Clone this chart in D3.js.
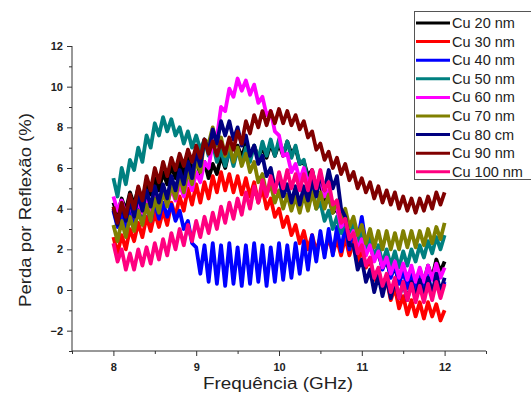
<!DOCTYPE html>
<html>
<head>
<meta charset="utf-8">
<script src="https://cdn.jsdelivr.net/npm/d3@7"></script>
<style>
  body { margin: 0; background: #fff; }
  text { font-family: Arial, "Liberation Sans", sans-serif; }
</style>
</head>
<body>
<div id="chart"></div>
<script>
// frequency grid (GHz)
let freq = [8.00,8.05,8.10,8.15,8.20,8.25,8.30,8.35,8.40,8.45,8.50,8.55,8.60,8.65,8.70,8.75,8.80,8.85,8.90,8.95,
  9.00,9.05,9.10,9.15,9.20,9.25,9.30,9.35,9.40,9.45,9.50,9.55,9.60,9.65,9.70,9.75,9.80,9.85,9.90,9.95,
  10.00,10.05,10.10,10.15,10.20,10.25,10.30,10.35,10.40,10.45,10.50,10.55,10.60,10.65,10.70,10.75,10.80,10.85,10.90,10.95,
  11.00,11.05,11.10,11.15,11.20,11.25,11.30,11.35,11.40,11.45,11.50,11.55,11.60,11.65,11.70,11.75,11.80,11.85,11.90,11.95,12.00];

let cu20 = [4.3,3.7,4.5,3.9,4.8,4.2,5.0,4.4,5.3,4.7,5.5,4.9,5.8,5.2,6.1,5.5,6.3,5.7,6.5,5.9,
  6.4,5.7,6.3,5.5,6.2,5.7,6.6,6.0,6.9,6.3,7.1,6.5,7.2,6.6,7.1,6.5,7.0,6.5,7.2,6.6,
  7.2,6.6,7.3,6.7,7.0,6.2,6.3,5.6,5.9,5.0,5.2,4.4,4.6,3.8,4.0,3.3,3.5,2.8,3.0,2.3,
  2.6,1.9,2.2,1.5,1.8,1.1,1.4,0.7,1.1,0.4,0.9,0.3,0.9,0.2,1.0,0.4,1.2,0.6,1.5,0.9,1.4];

let cu30 = [2.6,1.8,2.7,2.0,3.0,2.4,3.3,2.6,3.6,2.9,3.8,3.1,3.9,3.2,4.3,3.6,4.6,3.9,5.0,4.2,
  5.2,4.3,5.3,4.5,5.6,4.8,5.8,4.9,5.7,4.8,5.6,4.7,5.5,4.6,5.3,4.3,5.0,4.0,4.5,3.6,
  4.0,3.1,3.6,2.7,3.2,2.3,2.9,2.0,2.7,1.9,2.6,1.8,2.6,1.8,2.5,1.7,2.6,1.7,2.4,1.4,
  2.0,1.1,1.5,0.5,1.0,0.0,0.5,-0.5,0.1,-0.9,-0.3,-1.2,-0.5,-1.3,-0.6,-1.4,-0.6,-1.3,-0.7,-1.5,-1.0];

let cu40 = [3.9,3.1,3.8,3.0,4.0,3.2,4.0,3.3,4.2,3.4,4.3,3.5,4.3,3.6,4.2,3.4,3.9,3.0,3.4,2.3,
  2.1,0.8,2.2,0.4,2.3,0.3,2.2,0.2,2.3,0.3,2.1,0.2,2.2,0.3,2.3,0.4,2.2,0.2,2.1,0.4,
  2.3,0.5,2.2,0.6,2.3,0.8,2.4,1.0,2.7,1.4,2.9,1.6,3.0,1.7,3.1,1.9,3.2,2.0,3.3,2.4,
  3.6,2.2,2.6,1.5,2.0,1.0,1.6,0.6,1.3,0.3,1.0,0.1,0.9,0.0,0.8,-0.1,0.7,-0.2,0.6,-0.2,0.4];

let cu50 = [5.5,4.6,6.0,5.2,6.4,5.9,7.0,6.3,7.6,7.0,8.2,7.6,8.5,7.8,8.4,7.6,8.0,7.2,7.8,7.0,
  7.6,6.9,7.4,6.6,7.2,6.3,6.9,6.1,6.9,6.1,6.9,6.2,7.0,6.3,7.1,6.4,7.3,6.6,7.4,6.6,
  7.4,6.7,7.3,6.5,7.1,6.2,6.4,5.2,5.1,4.0,4.3,3.4,3.9,3.0,3.6,2.8,3.4,2.6,3.2,2.3,
  2.8,1.9,2.5,1.6,2.2,1.3,2.0,1.2,1.9,1.1,1.9,1.2,2.0,1.4,2.2,1.6,2.4,1.8,2.6,2.0,2.7];

let cu60 = [4.6,3.9,4.4,3.7,4.3,3.6,4.4,3.8,4.6,3.9,4.7,4.0,4.8,4.2,5.0,4.4,5.2,4.6,5.5,4.9,
  5.8,5.3,6.3,6.0,7.3,7.5,9.0,8.8,9.9,9.5,10.4,9.8,10.3,9.6,10.1,9.2,9.5,8.6,8.8,7.8,
  7.6,6.6,6.7,5.8,6.2,5.4,6.0,5.2,5.8,5.0,5.5,4.6,4.9,3.9,4.1,3.1,3.4,2.5,2.9,2.0,
  2.5,1.7,2.2,1.4,1.9,1.1,1.6,0.8,1.4,0.6,1.3,0.5,1.2,0.4,1.1,0.4,1.2,0.5,1.3,0.6,1.1];

let cu70 = [3.2,2.4,3.4,2.6,3.6,2.9,3.9,3.2,4.2,3.4,4.5,3.8,4.9,4.1,5.2,4.5,5.6,4.8,5.9,5.2,
  6.4,5.8,7.4,7.2,8.0,7.1,7.5,6.6,7.2,6.3,7.0,6.1,6.7,5.8,6.3,5.3,5.7,4.7,5.2,4.3,
  4.9,4.0,4.7,3.9,4.6,3.8,4.7,3.9,4.8,4.0,4.8,4.0,4.7,3.8,4.4,3.5,4.0,3.1,3.6,2.7,
  3.2,2.3,3.0,2.1,2.9,2.0,2.9,2.0,2.8,2.0,2.9,2.1,2.9,2.1,2.9,2.2,3.0,2.3,3.1,2.5,3.3];

let cu80 = [4.0,3.2,4.2,3.4,4.4,3.6,4.7,3.9,4.9,4.1,5.1,4.3,5.2,4.5,5.6,4.9,5.9,5.2,6.3,5.5,
  6.8,6.1,7.4,6.8,7.9,7.2,8.3,7.6,8.3,7.4,8.0,7.1,7.6,6.6,7.1,6.2,6.6,5.6,6.0,5.0,
  5.5,4.6,5.2,4.3,5.1,4.2,5.1,4.4,5.4,4.6,5.7,4.9,5.9,5.0,5.6,4.0,3.6,2.2,2.2,1.0,
  1.5,0.4,1.0,-0.1,0.7,-0.3,0.6,-0.4,0.5,-0.4,0.4,-0.5,0.4,-0.4,0.5,-0.3,0.6,-0.2,0.8,-0.1,0.6];

let cu90 = [4.1,3.3,4.3,3.6,4.7,4.0,5.1,4.4,5.6,4.9,6.0,5.3,6.3,5.6,6.5,5.9,6.7,6.1,6.9,6.3,
  7.1,6.5,7.4,6.7,7.3,6.6,7.3,6.7,7.5,6.9,7.8,7.2,8.3,7.7,8.6,8.0,8.8,8.1,8.8,8.2,
  8.9,8.2,8.8,8.1,8.6,7.9,8.3,7.5,7.8,6.9,7.2,6.4,6.8,6.0,6.5,5.7,6.2,5.4,5.8,5.0,
  5.5,4.8,5.3,4.5,5.1,4.3,4.9,4.2,4.8,4.0,4.6,3.9,4.5,3.8,4.5,3.9,4.6,4.0,4.8,4.2,4.8];

let cu100 = [2.3,1.4,2.0,1.0,1.8,1.0,2.0,1.2,2.1,1.3,2.3,1.5,2.5,1.7,2.8,2.0,3.0,2.2,3.2,2.4,
  3.4,2.6,3.6,2.8,3.8,3.0,4.1,3.3,4.3,3.5,4.5,3.7,4.8,4.0,5.1,4.3,5.4,4.6,5.6,4.8,
  5.8,5.0,5.9,5.0,5.7,4.9,5.7,4.9,5.9,5.0,5.9,4.9,5.3,4.2,4.4,3.3,3.5,2.5,2.8,1.8,
  2.2,1.2,1.6,0.6,1.1,0.2,0.8,-0.1,0.6,-0.4,0.4,-0.5,0.3,-0.6,0.2,-0.6,0.3,-0.5,0.4,-0.4,0.3];

let seriesNames = ['Cu 20 nm','Cu 30 nm','Cu 40 nm','Cu 50 nm','Cu 60 nm','Cu 70 nm','Cu 80 cm','Cu 90 nm','Cu 100 nm'];
let seriesColors = ['#000000','#ff0000','#0000ff','#008080','#ff00ff','#808000','#000080','#800000','#ff0080'];
let seriesValues = [cu20, cu30, cu40, cu50, cu60, cu70, cu80, cu90, cu100];

let xTicks = [8, 9, 10, 11, 12];
let yTicks = [-2, 0, 2, 4, 6, 8, 10, 12];

let width = 531, height = 403;
let svg = d3.select('#chart').append('svg').attr('width', width).attr('height', height);

let xScale = d3.scaleLinear().domain([7.5, 12.5]).range([72, 486]);
let yScale = d3.scaleLinear().domain([-3, 12]).range([351, 46]);

// data lines
let line = d3.line()
  .x((d, i) => xScale(freq[i]))
  .y(d => yScale(d));

let lineContainer = svg.append('g').attr('class', 'lines');
seriesValues.forEach((vals, k) => {
  lineContainer.append('path')
    .datum(vals)
    .attr('d', line)
    .attr('fill', 'none')
    .attr('stroke', seriesColors[k])
    .attr('stroke-width', 3.8)
    .attr('stroke-linejoin', 'round');
});

// x axis
let xAxis = d3.axisBottom(xScale).tickValues(xTicks).tickSize(5).tickFormat(d3.format('d'));
let gx = svg.append('g').attr('transform', 'translate(0,' + yScale(-3) + ')').call(xAxis);
gx.select('.domain').attr('d', 'M72,0H486').attr('stroke', '#333');
gx.selectAll('.tick line').attr('stroke', '#333');
gx.selectAll('.tick text').attr('font-size', 11).attr('font-weight', 'bold').attr('dy', '1.1em').attr('fill', '#222');
let xMinor = d3.axisBottom(xScale).tickValues([7.5, 8.5, 9.5, 10.5, 11.5, 12.5]).tickSize(3).tickFormat('');
let gxm = svg.append('g').attr('transform', 'translate(0,' + yScale(-3) + ')').call(xMinor);
gxm.select('.domain').remove();
gxm.selectAll('.tick line').attr('stroke', '#333');

// y axis
let yAxis = d3.axisLeft(yScale).tickValues(yTicks).tickSize(5).tickFormat(d3.format('d'));
let gy = svg.append('g').attr('transform', 'translate(72,0)').call(yAxis);
gy.select('.domain').attr('d', 'M0,' + yScale(12) + 'V' + yScale(-3)).attr('stroke', '#333');
gy.selectAll('.tick line').attr('stroke', '#333');
gy.selectAll('.tick text').attr('font-size', 11).attr('font-weight', 'bold').attr('x', -9).attr('fill', '#222');
let yMinor = d3.axisLeft(yScale).tickValues([-3, -1, 1, 3, 5, 7, 9, 11]).tickSize(3).tickFormat('');
let gym = svg.append('g').attr('transform', 'translate(72,0)').call(yMinor);
gym.select('.domain').remove();
gym.selectAll('.tick line').attr('stroke', '#333');

// axis titles
svg.append('text')
  .attr('x', 278).attr('y', 389)
  .attr('text-anchor', 'middle')
  .attr('font-size', 16)
  .attr('textLength', 150).attr('lengthAdjust', 'spacingAndGlyphs')
  .attr('fill', '#222')
  .text('Frequência (GHz)');

svg.append('text')
  .attr('transform', 'translate(31,210) rotate(-90)')
  .attr('text-anchor', 'middle')
  .attr('font-size', 17)
  .attr('textLength', 194).attr('lengthAdjust', 'spacingAndGlyphs')
  .attr('fill', '#222')
  .text('Perda por Reflexão (%)');

// legend
let legend = svg.append('g').attr('class', 'legend');
legend.append('rect')
  .attr('x', 414.5).attr('y', 11.5)
  .attr('width', 130).attr('height', 168)
  .attr('fill', '#fff').attr('stroke', '#555').attr('stroke-width', 1);
seriesNames.forEach((name, k) => {
  let ly = 23 + k * 18.6;
  legend.append('line')
    .attr('x1', 416).attr('x2', 450)
    .attr('y1', ly).attr('y2', ly)
    .attr('stroke', seriesColors[k]).attr('stroke-width', 3);
  legend.append('text')
    .attr('x', 452).attr('y', ly + 5)
    .attr('font-size', 14.5)
    .attr('fill', '#222')
    .text(name);
});
</script>
</body>
</html>
